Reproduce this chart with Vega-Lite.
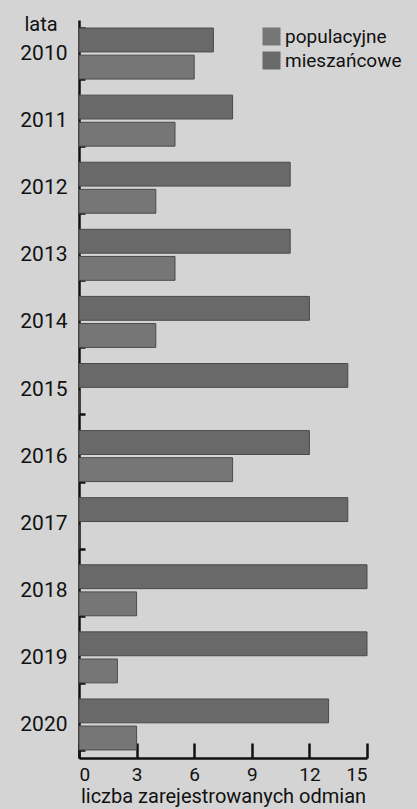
{
  "$schema": "https://vega.github.io/schema/vega-lite/v6.json",
  "width": 288,
  "height": 738,
  "autosize": {"type": "none"},
  "padding": {"left": 79, "top": 20, "right": 50, "bottom": 51},
  "background": "#d4d4d4",
  "config": {
    "font": "Roboto",
    "view": {"stroke": null},
    "axis": {"labelColor": "#111", "titleColor": "#111", "domainColor": "#111", "tickColor": "#111", "grid": false}
  },
  "data": {
    "values": [
      {"rok": "2010", "typ": "mieszańcowe", "liczba": 7},
      {"rok": "2010", "typ": "populacyjne", "liczba": 6},
      {"rok": "2011", "typ": "mieszańcowe", "liczba": 8},
      {"rok": "2011", "typ": "populacyjne", "liczba": 5},
      {"rok": "2012", "typ": "mieszańcowe", "liczba": 11},
      {"rok": "2012", "typ": "populacyjne", "liczba": 4},
      {"rok": "2013", "typ": "mieszańcowe", "liczba": 11},
      {"rok": "2013", "typ": "populacyjne", "liczba": 5},
      {"rok": "2014", "typ": "mieszańcowe", "liczba": 12},
      {"rok": "2014", "typ": "populacyjne", "liczba": 4},
      {"rok": "2015", "typ": "mieszańcowe", "liczba": 14},
      {"rok": "2015", "typ": "populacyjne", "liczba": 0},
      {"rok": "2016", "typ": "mieszańcowe", "liczba": 12},
      {"rok": "2016", "typ": "populacyjne", "liczba": 8},
      {"rok": "2017", "typ": "mieszańcowe", "liczba": 14},
      {"rok": "2017", "typ": "populacyjne", "liczba": 0},
      {"rok": "2018", "typ": "mieszańcowe", "liczba": 15},
      {"rok": "2018", "typ": "populacyjne", "liczba": 3},
      {"rok": "2019", "typ": "mieszańcowe", "liczba": 15},
      {"rok": "2019", "typ": "populacyjne", "liczba": 2},
      {"rok": "2020", "typ": "mieszańcowe", "liczba": 13},
      {"rok": "2020", "typ": "populacyjne", "liczba": 3}
    ]
  },
  "mark": {"type": "bar", "stroke": "#4a4a4a", "strokeWidth": 1},
  "encoding": {
    "y": {
      "field": "rok",
      "type": "nominal",
      "scale": {"paddingInner": 0.24, "paddingOuter": 0.12},
      "axis": {
        "title": "lata",
        "titleAngle": 0,
        "titleAlign": "left",
        "titleBaseline": "alphabetic",
        "titleX": -55,
        "titleY": 10,
        "titleFontSize": 20,
        "titleFontWeight": "normal",
        "labelFontSize": 21,
        "labelFontWeight": "normal",
        "tickBand": "extent",
        "tickSize": -6,
        "tickWidth": 2.5,
        "domainWidth": 2.5,
        "labelPadding": 18
      }
    },
    "yOffset": {
      "field": "typ",
      "type": "nominal",
      "sort": ["mieszańcowe", "populacyjne"],
      "scale": {"paddingInner": 0.12, "paddingOuter": 0}
    },
    "x": {
      "field": "liczba",
      "type": "quantitative",
      "scale": {"domain": [0, 15], "nice": false},
      "axis": {
        "title": "liczba zarejestrowanych odmian",
        "values": [0, 3, 6, 9, 12, 15],
        "titleFontSize": 20,
        "titleFontWeight": "normal",
        "titlePadding": 2,
        "labelFontSize": 19,
        "tickSize": -15,
        "tickWidth": 2.5,
        "domainWidth": 2.5,
        "labelPadding": 22
      }
    },
    "color": {
      "field": "typ",
      "type": "nominal",
      "scale": {"domain": ["populacyjne", "mieszańcowe"], "range": ["#767676", "#696969"]},
      "legend": {
        "title": null,
        "orient": "none",
        "legendX": 183,
        "legendY": 7,
        "symbolType": "square",
        "symbolSize": 324,
        "symbolStrokeWidth": 0,
        "labelFontSize": 19,
        "labelColor": "#111",
        "labelOffset": 4,
        "rowPadding": 4
      }
    }
  }
}
